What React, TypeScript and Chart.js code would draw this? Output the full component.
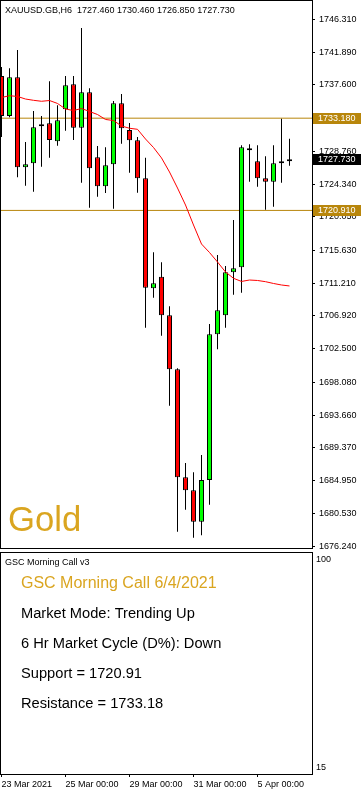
import React, { useEffect, useRef } from 'react';
import { Chart, registerables } from 'chart.js';

Chart.register(...registerables);

// ---- data ----
const OPEN = [1738.79, 1733.47, 1738.62, 1726.65, 1727.18, 1732.10, 1732.50, 1730.11, 1734.36, 1737.69, 1731.92, 1736.63, 1727.98, 1724.12, 1727.05, 1735.16, 1731.61, 1730.24, 1725.18, 1710.55, 1712.09, 1706.96, 1699.78, 1685.41, 1683.68, 1679.50, 1685.05, 1704.43, 1706.96, 1712.68, 1713.34, 1729.18, 1727.45, 1725.18, 1724.73, 1727.18, 1727.46];
const HIGH = [1739.99, 1739.82, 1742.25, 1730.01, 1734.14, 1733.47, 1738.09, 1734.90, 1738.79, 1738.79, 1745.18, 1737.16, 1729.48, 1729.31, 1735.47, 1736.40, 1732.54, 1730.68, 1727.92, 1715.34, 1714.01, 1708.16, 1699.90, 1687.31, 1686.07, 1688.37, 1705.80, 1714.98, 1713.52, 1719.64, 1729.57, 1729.71, 1729.57, 1728.11, 1729.57, 1733.11, 1730.46];
const LOW = [1730.68, 1733.30, 1725.32, 1724.20, 1723.40, 1726.73, 1727.92, 1729.52, 1731.52, 1730.28, 1724.60, 1721.27, 1722.74, 1723.23, 1721.14, 1729.79, 1725.93, 1723.27, 1705.31, 1709.30, 1704.25, 1694.93, 1678.17, 1681.10, 1677.37, 1677.69, 1681.76, 1702.44, 1705.31, 1709.70, 1709.97, 1724.73, 1724.07, 1721.01, 1721.41, 1724.60, 1726.85];
const CLOSE = [1733.47, 1738.62, 1726.65, 1727.05, 1731.97, 1732.37, 1730.28, 1732.90, 1737.56, 1731.92, 1736.63, 1726.51, 1724.12, 1726.91, 1735.16, 1731.84, 1730.24, 1725.18, 1710.63, 1711.22, 1706.96, 1699.78, 1685.41, 1683.68, 1679.50, 1685.05, 1704.43, 1707.62, 1712.68, 1713.21, 1729.31, 1728.91, 1725.18, 1724.73, 1727.18, 1727.45, 1727.73];
const MA = [1735.93, 1736.17, 1736.07, 1735.73, 1735.56, 1735.43, 1735.53, 1735.14, 1734.40, 1734.20, 1734.47, 1734.07, 1733.67, 1733.01, 1732.87, 1732.14, 1731.84, 1731.70, 1730.41, 1729.28, 1727.89, 1726.02, 1723.89, 1721.63, 1718.97, 1716.44, 1715.31, 1714.05, 1712.72, 1711.88, 1711.46, 1711.65, 1711.59, 1711.43, 1711.19, 1710.99, 1710.86];

const Y_TICKS = [1746.31, 1741.89, 1737.6, 1733.18, 1728.76, 1724.34, 1720.05, 1715.63, 1711.21, 1706.92, 1702.5, 1698.08, 1693.66, 1689.37, 1684.95, 1680.53, 1676.24];
const X_TICK_POS = [0, 8, 16, 24, 32];
const X_TICK_LABELS = ['23 Mar 2021', '25 Mar 00:00', '29 Mar 00:00', '31 Mar 00:00', '5 Apr 00:00'];
const SUB_TICKS = [100, 15];

const SUPPORT = 1720.91;
const RESISTANCE = 1733.18;
const LAST_PRICE = 1727.73;
const HEADER = 'XAUUSD.GB,H6  1727.460 1730.460 1726.850 1727.730';
const SYMBOL_NAME = 'Gold';
const SUB_NAME = 'GSC Morning Call v3';
const INFO_TITLE = 'GSC Morning Call 6/4/2021';
const INFO_LINES = ['Market Mode: Trending Up', '6 Hr Market Cycle (D%): Down', 'Support = 1720.91', 'Resistance = 1733.18'];

// ---- scale config ----
const X_MIN = -0.0625;
const X_MAX = 38.8125;
const Y_MIN = 1676.0;
const Y_MAX = 1748.77;
const SUB_MIN = 12.43;
const SUB_MAX = 103.15;

const FONT = "'Liberation Sans', Arial, sans-serif";
const GREEN = '#00FF00';
const RED = '#FF0000';
const LEVEL = '#B8860B';
const GOLD = '#DAA520';

function mainConfig(): any {
  const idx = OPEN.map((_, i) => i);
  const decor = {
    id: 'mainDecor',
    afterDraw(chart: any) {
      const ctx = chart.ctx;
      const y = chart.scales.y;
      ctx.save();
      // frame
      ctx.strokeStyle = '#000';
      ctx.lineWidth = 1;
      ctx.strokeRect(0.5, 0.5, 312, 548);
      // price tags
      const tag = (v: number, bg: string) => {
        const py = Math.round(y.getPixelForValue(v));
        ctx.fillStyle = bg;
        ctx.fillRect(313, py - 5, 48, 11);
        ctx.fillStyle = '#fff';
        ctx.font = `9px ${FONT}`;
        ctx.textBaseline = 'middle';
        ctx.textAlign = 'left';
        ctx.fillText(v.toFixed(3), 318, py + 0.5);
      };
      tag(RESISTANCE, LEVEL);
      tag(SUPPORT, LEVEL);
      tag(LAST_PRICE, '#000');
      // header
      ctx.fillStyle = '#000';
      ctx.font = `9px ${FONT}`;
      ctx.textBaseline = 'alphabetic';
      ctx.fillText(HEADER, 5, 13);
      // symbol name
      ctx.fillStyle = GOLD;
      ctx.font = `34.67px ${FONT}`;
      ctx.fillText(SYMBOL_NAME, 8, 531);
      ctx.restore();
    },
  };
  return {
    type: 'bar',
    data: {
      datasets: [
        {
          type: 'line',
          data: idx.map((i) => ({ x: i, y: MA[i] })),
          borderColor: RED,
          borderWidth: 1,
          pointRadius: 0,
          tension: 0,
          order: 0,
        },
        {
          type: 'line',
          data: [{ x: X_MIN, y: RESISTANCE }, { x: X_MAX, y: RESISTANCE }],
          borderColor: LEVEL,
          borderWidth: 1,
          pointRadius: 0,
          order: 3,
        },
        {
          type: 'line',
          data: [{ x: X_MIN, y: SUPPORT }, { x: X_MAX, y: SUPPORT }],
          borderColor: LEVEL,
          borderWidth: 1,
          pointRadius: 0,
          order: 3,
        },
        {
          type: 'bar',
          data: idx.map((i) => ({ x: i, y: [OPEN[i], CLOSE[i]] })),
          backgroundColor: idx.map((i) => (CLOSE[i] >= OPEN[i] ? GREEN : RED)),
          borderColor: '#000',
          borderWidth: 1,
          borderSkipped: false,
          inflateAmount: 0,
          barThickness: 5,
          grouped: false,
          clip: 0,
          order: 1,
        },
        {
          type: 'bar',
          data: idx.map((i) => ({ x: i, y: [LOW[i], HIGH[i]] })),
          backgroundColor: '#000',
          borderWidth: 0,
          inflateAmount: 0,
          barThickness: 1,
          grouped: false,
          clip: 0,
          order: 2,
        },
      ],
    },
    options: {
      responsive: false,
      animation: false,
      devicePixelRatio: 1,
      events: [],
      layout: { padding: { left: 1, top: 1, right: 0, bottom: 2 } },
      plugins: { legend: { display: false }, tooltip: { enabled: false } },
      scales: {
        x: {
          type: 'linear',
          min: X_MIN,
          max: X_MAX,
          offset: false,
          display: false,
          grid: { offset: false },
        },
        y: {
          type: 'linear',
          position: 'right',
          min: Y_MIN,
          max: Y_MAX,
          beginAtZero: false,
          afterBuildTicks: (s: any) => {
            s.ticks = Y_TICKS.map((v) => ({ value: v }));
          },
          afterFit: (s: any) => {
            s.width = 49;
            s.paddingTop = 0;
            s.paddingBottom = 0;
          },
          ticks: {
            autoSkip: false,
            padding: 4,
            color: '#000',
            font: { family: FONT, size: 9 },
            callback: (v: any) => Number(v).toFixed(3),
          },
          grid: { drawOnChartArea: false, drawTicks: true, tickLength: 3, color: '#000' },
          border: { display: false },
        },
      },
    },
    plugins: [decor],
  };
}

function subConfig(): any {
  const decor = {
    id: 'subDecor',
    afterDraw(chart: any) {
      const ctx = chart.ctx;
      ctx.save();
      ctx.strokeStyle = '#000';
      ctx.lineWidth = 1;
      ctx.strokeRect(0.5, 2.5, 312, 222);
      ctx.textBaseline = 'alphabetic';
      ctx.textAlign = 'left';
      ctx.fillStyle = '#000';
      ctx.font = `9px ${FONT}`;
      ctx.fillText(SUB_NAME, 5, 15);
      ctx.fillStyle = GOLD;
      ctx.font = `16px ${FONT}`;
      ctx.fillText(INFO_TITLE, 21, 38);
      ctx.fillStyle = '#000';
      ctx.font = `14.67px ${FONT}`;
      INFO_LINES.forEach((t, k) => ctx.fillText(t, 21, 67.5 + k * 30));
      ctx.restore();
    },
  };
  return {
    type: 'line',
    data: { datasets: [] },
    options: {
      responsive: false,
      animation: false,
      devicePixelRatio: 1,
      events: [],
      layout: { padding: { left: 1, top: 2, right: 0, bottom: 0 } },
      plugins: { legend: { display: false }, tooltip: { enabled: false } },
      scales: {
        x: {
          type: 'linear',
          min: X_MIN,
          max: X_MAX,
          offset: false,
          afterBuildTicks: (s: any) => {
            s.ticks = X_TICK_POS.map((v) => ({ value: v }));
          },
          afterFit: (s: any) => {
            s.height = 17;
            s.paddingLeft = 0;
            s.paddingRight = 0;
          },
          ticks: {
            autoSkip: false,
            maxRotation: 0,
            minRotation: 0,
            align: 'start',
            padding: 2,
            color: '#000',
            font: { family: FONT, size: 9 },
            callback: (_v: any, i: number) => X_TICK_LABELS[i],
          },
          grid: { drawOnChartArea: false, drawTicks: true, tickLength: 3, color: '#000', offset: false },
          border: { display: false },
        },
        y: {
          type: 'linear',
          position: 'right',
          min: SUB_MIN,
          max: SUB_MAX,
          afterBuildTicks: (s: any) => {
            s.ticks = SUB_TICKS.map((v) => ({ value: v }));
          },
          afterFit: (s: any) => {
            s.width = 49;
            s.paddingTop = 0;
            s.paddingBottom = 0;
          },
          ticks: {
            autoSkip: false,
            padding: 4,
            color: '#000',
            font: { family: FONT, size: 9 },
            callback: (v: any) => String(v),
          },
          grid: { display: false, drawTicks: false, tickLength: 0 },
          border: { display: false },
        },
      },
    },
    plugins: [decor],
  };
}

export default function App() {
  const mainRef = useRef<HTMLCanvasElement>(null);
  const subRef = useRef<HTMLCanvasElement>(null);
  useEffect(() => {
    const main = new Chart(mainRef.current as HTMLCanvasElement, mainConfig());
    const sub = new Chart(subRef.current as HTMLCanvasElement, subConfig());
    return () => {
      main.destroy();
      sub.destroy();
    };
  }, []);
  return (
    <div style={{ position: 'fixed', left: 0, top: 0, width: 361, height: 791, background: '#fff', overflow: 'hidden' }}>
      <canvas ref={mainRef} width={361} height={550} style={{ position: 'absolute', left: 0, top: 0, width: 361, height: 550 }} />
      <canvas ref={subRef} width={361} height={241} style={{ position: 'absolute', left: 0, top: 550, width: 361, height: 241 }} />
    </div>
  );
}
